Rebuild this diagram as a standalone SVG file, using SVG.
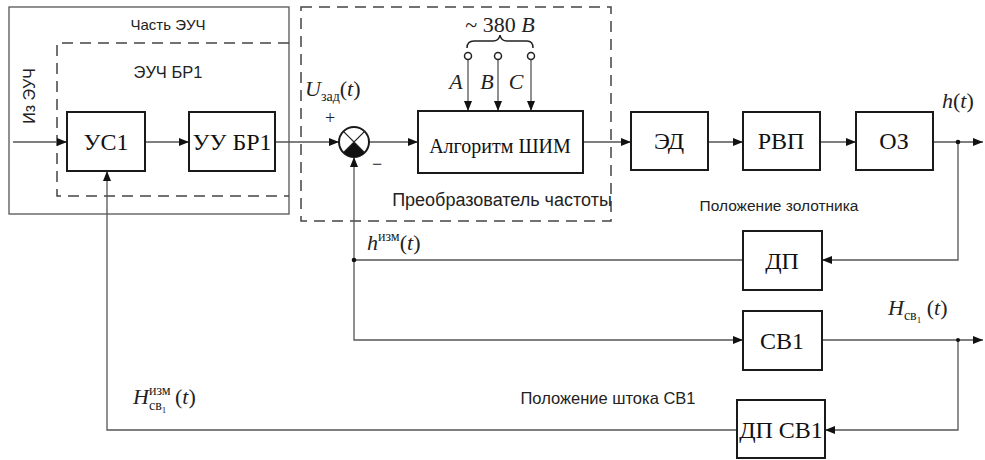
<svg xmlns="http://www.w3.org/2000/svg" width="985" height="460" viewBox="0 0 985 460">
<style>
.box{fill:#fff;stroke:#1a1a1a;stroke-width:2}
.ln{fill:none;stroke:#555;stroke-width:1.3}
.dash{fill:none;stroke:#444;stroke-width:1.5;stroke-dasharray:11 7}
.frame{fill:none;stroke:#555;stroke-width:1.3}
.bl{font-family:"Liberation Serif","DejaVu Serif","Times New Roman",serif;font-size:24px;fill:#111;text-anchor:middle;dominant-baseline:central}
.sm{font-family:"Liberation Sans",Arial,sans-serif;font-size:15px;fill:#222;text-anchor:middle}
.m{font-family:"Liberation Serif","DejaVu Serif","Times New Roman",serif;font-size:22px;fill:#222}
.i{font-style:italic}
.sub{font-size:14px}
</style>
<defs>
<marker id="ar" viewBox="0 0 10 8" refX="10" refY="4" markerWidth="10" markerHeight="8" markerUnits="userSpaceOnUse" orient="auto">
<path d="M0,0 L10,4 L0,8 Z" fill="#111"/>
</marker>
</defs>
<rect width="985" height="460" fill="#fff"/>
<g id="frames">
<rect class="frame" x="9" y="7" width="280" height="207"/>
<path class="dash" d="M289,43 H57 V196 H289"/>
<rect class="dash" x="301" y="7" width="310" height="214"/>
</g>
<g id="connectors">
<line class="ln" x1="13" y1="142" x2="67" y2="142" marker-end="url(#ar)"/>
<line class="ln" x1="145" y1="142" x2="189" y2="142" marker-end="url(#ar)"/>
<line class="ln" x1="275" y1="142" x2="339" y2="142" marker-end="url(#ar)"/>
<line class="ln" x1="369" y1="142" x2="418" y2="142" marker-end="url(#ar)"/>
<line class="ln" x1="583" y1="142" x2="631" y2="142" marker-end="url(#ar)"/>
<line class="ln" x1="708" y1="142" x2="743" y2="142" marker-end="url(#ar)"/>
<line class="ln" x1="820" y1="142" x2="856" y2="142" marker-end="url(#ar)"/>
<line class="ln" x1="933" y1="142" x2="983" y2="142" marker-end="url(#ar)"/>
<polyline class="ln" points="958,142 958,260 822,260" marker-end="url(#ar)"/>
<line class="ln" x1="743" y1="260" x2="354" y2="260"/>
<line class="ln" x1="354" y1="260" x2="354" y2="157" marker-end="url(#ar)"/>
<polyline class="ln" points="354,260 354,340 743,340" marker-end="url(#ar)"/>
<line class="ln" x1="822" y1="340" x2="983" y2="340" marker-end="url(#ar)"/>
<polyline class="ln" points="958,340 958,430 825,430" marker-end="url(#ar)"/>
<polyline class="ln" points="737,430 107,430 107,171" marker-end="url(#ar)"/>
<line class="ln" x1="468" y1="60" x2="468" y2="111" marker-end="url(#ar)"/>
<line class="ln" x1="498" y1="60" x2="498" y2="111" marker-end="url(#ar)"/>
<line class="ln" x1="531" y1="60" x2="531" y2="111" marker-end="url(#ar)"/>
<circle cx="958" cy="142" r="2.3" fill="#111"/>
<circle cx="354" cy="260" r="2.3" fill="#111"/>
<circle cx="958" cy="340" r="2" fill="#111"/>
</g>
<g id="terminals">
<circle cx="468" cy="56" r="3.5" fill="#fff" stroke="#222" stroke-width="1.5"/>
<circle cx="498" cy="56" r="3.5" fill="#fff" stroke="#222" stroke-width="1.5"/>
<circle cx="531" cy="56" r="3.5" fill="#fff" stroke="#222" stroke-width="1.5"/>
<path d="M467,48 Q467,41 474,41 H493 Q499,41 500,35 Q501,41 507,41 H527 Q533,41 533,48" fill="none" stroke="#222" stroke-width="1.5"/>
<text class="m" x="500" y="32" text-anchor="middle">~ 380 <tspan class="i">B</tspan></text>
<text class="m i" x="456" y="89" text-anchor="middle">A</text>
<text class="m i" x="487" y="89" text-anchor="middle">B</text>
<text class="m i" x="516" y="89" text-anchor="middle">C</text>
</g>
<g id="sum">
<circle cx="354" cy="142" r="15" fill="#fff" stroke="#1a1a1a" stroke-width="2"/>
<path d="M354,142 L343.4,152.6 A15,15 0 0 0 364.6,152.6 Z" fill="#111"/>
<path d="M343.4,131.4 L364.6,152.6 M364.6,131.4 L343.4,152.6" stroke="#222" stroke-width="1.3"/>
</g>
<g id="n-us1"><rect class="box" x="67" y="112" width="78" height="59"/><text class="bl" x="106" y="142">УС1</text></g>
<g id="n-uubr1"><rect class="box" x="189" y="112" width="86" height="59"/><text class="bl" x="232" y="142">УУ БР1</text></g>
<g id="n-shim"><rect class="box" x="418" y="111" width="165" height="62"/><text class="bl" x="500" y="146" style="font-size:20px">Алгоритм ШИМ</text></g>
<g id="n-ed"><rect class="box" x="631" y="112" width="77" height="58"/><text class="bl" x="669" y="141">ЭД</text></g>
<g id="n-rvp"><rect class="box" x="743" y="112" width="77" height="58"/><text class="bl" x="781" y="141">РВП</text></g>
<g id="n-oz"><rect class="box" x="856" y="112" width="77" height="58"/><text class="bl" x="894" y="141">ОЗ</text></g>
<g id="n-dp"><rect class="box" x="743" y="231" width="79" height="59"/><text class="bl" x="782" y="261">ДП</text></g>
<g id="n-sv1"><rect class="box" x="743" y="311" width="79" height="59"/><text class="bl" x="782" y="341">СВ1</text></g>
<g id="n-dpsv1"><rect class="box" x="737" y="400" width="88" height="58"/><text class="bl" x="781" y="430">ДП СВ1</text></g>
<g id="labels">
<text class="sm" x="168" y="30" style="font-size:15px">Часть ЭУЧ</text>
<text class="sm" x="168" y="78" style="font-size:16.5px">ЭУЧ БР1</text>
<text class="sm" transform="translate(35,96) rotate(-90)" style="font-size:16px">Из ЭУЧ</text>
<text class="sm" x="502" y="206" style="font-size:18px">Преобразователь частоты</text>
<text class="sm" x="779" y="211" style="font-size:15.5px">Положение золотника</text>
<text class="sm" x="608" y="404" style="font-size:16.5px">Положение штока СВ1</text>
<text class="m" x="330" y="124" text-anchor="middle" style="font-size:18px">+</text>
<text class="m" x="377" y="170" text-anchor="middle" style="font-size:18px">−</text>
<text class="m" x="305" y="96"><tspan class="i">U</tspan><tspan class="sub" dy="5">зад</tspan><tspan dy="-5">(</tspan><tspan class="i">t</tspan>)</text>
<text class="m" x="942" y="108"><tspan class="i">h</tspan>(<tspan class="i">t</tspan>)</text>
<text class="m" x="367" y="250"><tspan class="i">h</tspan><tspan class="sub" dy="-9">изм</tspan><tspan dy="9">(</tspan><tspan class="i">t</tspan>)</text>
<text class="m" x="888" y="315"><tspan class="i">H</tspan><tspan class="sub" dy="5">св</tspan><tspan style="font-size:9px" dy="3">1</tspan><tspan dy="-8"> (</tspan><tspan class="i">t</tspan>)</text>
<text class="m" x="133" y="404"><tspan class="i">H</tspan><tspan class="sub" dy="-9">изм</tspan><tspan class="sub" x="149" dy="15">св</tspan><tspan style="font-size:9px" dy="3">1</tspan><tspan x="175" dy="-9">(</tspan><tspan class="i">t</tspan>)</text>
</g>
</svg>
